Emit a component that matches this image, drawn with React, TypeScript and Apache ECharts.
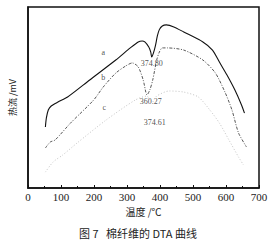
import React, { useEffect, useRef } from "react";
import * as echarts from "echarts";

const xTicks = [0, 100, 200, 300, 400, 500, 600, 700];

const curveA: [number, number][] = [
  [52.7, 33.7], [55.7, 38.7], [61.5, 43.1], [70.3, 45.3], [90.8, 47.5], [120, 50.3],
  [187, 59.7], [266, 70.7], [310, 77.4], [334, 80.7], [346, 81.2], [354, 80.7],
  [366, 77.9], [372, 75.1], [374.8, 72.4], [380, 74.5], [386, 78.5], [392, 84.0],
  [398, 87.5], [407, 89.5], [419, 90.1], [442, 89.0], [472, 86.2], [530, 80.7],
  [559, 76.2], [580, 69.6], [603, 62.4], [627, 54.1], [647, 45.9], [656, 41.4],
];

const curveB: [number, number][] = [
  [52.7, 22.1], [67.4, 25.4], [82, 26.5], [129, 35.9], [199, 48.6], [228, 55.8],
  [266, 63.5], [296, 67.4], [316, 69.1], [334, 66.9], [349, 59.7], [357, 53.0],
  [360.27, 51.4], [369, 54.1], [378, 59.7], [390, 70.7], [398, 75.1], [407, 77.4],
  [422, 77.4], [472, 76.2], [530, 70.7], [568, 63.5], [598, 52.5], [618, 43.1],
  [638, 30.4], [662, 22.7],
];

const curveC: [number, number][] = [
  [52.7, 8.8], [76.2, 14.4], [105, 18.2], [149, 24.9], [237, 37.6], [325, 48.6],
  [360, 50.8], [374.61, 47.0], [390, 50.8], [428, 53.6], [472, 53.0], [516, 50.3],
  [551, 43.1], [580, 35.9], [609, 26.5], [638, 17.1], [653, 12.7],
];

const annotations: [number, number, string][] = [
  [228, 75.1, "a"],
  [228, 61.3, "b"],
  [231, 44.2, "c"],
  [375, 68.6, "374.80"],
  [372, 47.6, "360.27"],
  [384, 36.0, "374.61"],
];

const serif = "'Liberation Serif', 'Noto Sans CJK SC', serif";
const cjk = "'Noto Sans CJK SC', 'Liberation Serif', serif";

export default function App() {
  const ref = useRef<HTMLDivElement>(null);
  useEffect(() => {
    if (!ref.current) return;
    const chart = echarts.init(ref.current, null, { renderer: "svg" });
    chart.setOption({
      animation: false,
      backgroundColor: "#fff",
      color: ["#111", "#444", "#c4c4c4", "#222"],
      title: {
        text: "图 7   棉纤维的 DTA 曲线",
        left: 133,
        top: 222,
        textAlign: "center",
        textStyle: { fontFamily: cjk, fontSize: 11, fontWeight: "normal", color: "#222" },
      },
      grid: {
        left: 20,
        right: 13,
        top: 7,
        bottom: 52,
        show: true,
        borderColor: "#111",
        borderWidth: 1.5,
        backgroundColor: "transparent",
      },
      xAxis: {
        type: "value",
        min: 0,
        max: 700,
        interval: 100,
        name: "温度 /℃",
        nameLocation: "middle",
        nameGap: 18,
        nameTextStyle: { fontFamily: cjk, fontSize: 10, color: "#222" },
        axisLine: { show: true, lineStyle: { color: "#111", width: 1.5 } },
        axisTick: { show: true, inside: true, length: 3, lineStyle: { color: "#111" } },
        minorTick: { show: true, splitNumber: 2, length: 2, lineStyle: { color: "#111" } },
        axisLabel: { fontFamily: serif, fontSize: 11, color: "#222", margin: 3 },
        splitLine: { show: false },
      },
      yAxis: {
        type: "value",
        min: 0,
        max: 100,
        name: "热流 /mV",
        nameLocation: "middle",
        nameGap: 11,
        nameTextStyle: { fontFamily: cjk, fontSize: 9, color: "#222" },
        axisLine: { show: true, lineStyle: { color: "#111", width: 1.5 } },
        axisTick: { show: false },
        axisLabel: { show: false },
        splitLine: { show: false },
      },
      series: [
        {
          type: "line",
          data: curveA,
          showSymbol: false,
          smooth: 0.25,
          lineStyle: { color: "#111", width: 1.1 },
        },
        {
          type: "line",
          data: curveB,
          showSymbol: false,
          smooth: 0.25,
          lineStyle: { color: "#444", width: 0.9, type: [3, 1.5, 1, 1.5] },
        },
        {
          type: "line",
          data: curveC,
          showSymbol: false,
          smooth: 0.25,
          lineStyle: { color: "#c4c4c4", width: 1, type: [1, 2] },
        },
        {
          type: "scatter",
          data: annotations,
          symbolSize: 1,
          silent: true,
          itemStyle: { color: "rgba(255,255,255,0)" },
          label: {
            show: true,
            position: "inside",
            formatter: (p: any) => p.value[2],
            color: "#222",
            fontFamily: serif,
            fontSize: 8,
          },
        },
      ],
    });
    return () => chart.dispose();
  }, []);
  return (
    <div
      ref={ref}
      style={{ position: "fixed", left: 0, top: 0, width: 272, height: 240 }}
    />
  );
}
